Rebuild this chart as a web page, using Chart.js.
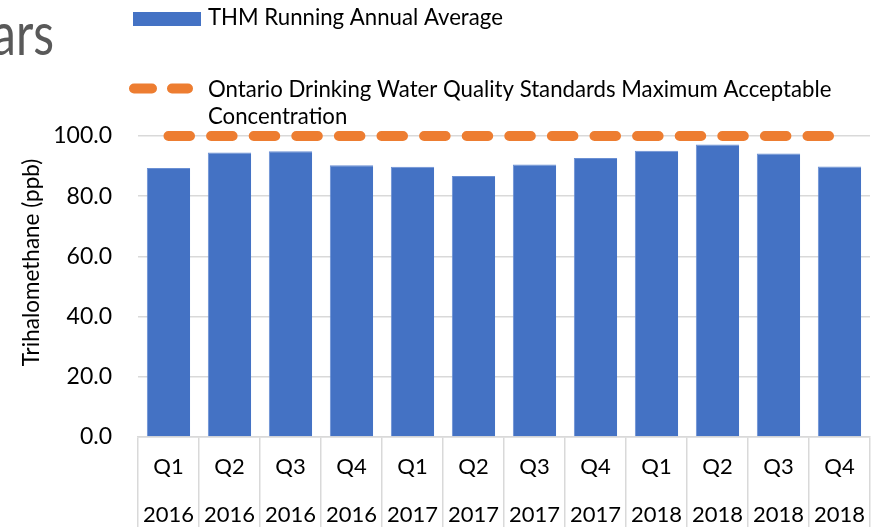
<!DOCTYPE html>
<html>
<head>
<meta charset="utf-8">
<script src="https://cdn.jsdelivr.net/npm/chart.js@4.4.1/dist/chart.umd.min.js"></script>
<style>
  html, body { margin: 0; padding: 0; background: #fff; overflow: hidden; }
  #wrap { position: relative; width: 881px; height: 527px; overflow: hidden; }
  canvas { display: block; }
</style>
</head>
<body>
<div id="wrap"><canvas id="c" width="881" height="545"></canvas></div>
<script>
// ---- data ----
const quarters = ['Q1', 'Q2', 'Q3', 'Q4', 'Q1', 'Q2', 'Q3', 'Q4', 'Q1', 'Q2', 'Q3', 'Q4'];
const years = ['2016', '2016', '2016', '2016', '2017', '2017', '2017', '2017', '2018', '2018', '2018', '2018'];
const thmRunningAnnualAverage = [89.4, 94.5, 94.9, 90.3, 89.8, 86.7, 90.5, 92.7, 95.1, 97.2, 94.2, 89.9];
const odwqsMAC = [100, 100, 100, 100, 100, 100, 100, 100, 100, 100, 100, 100];
const seriesNames = ['THM Running Annual Average', 'Ontario Drinking Water Quality Standards Maximum Acceptable Concentration'];
const legendLines = ['Ontario Drinking Water Quality Standards Maximum Acceptable', 'Concentration'];
const yAxisTitle = 'Trihalomethane (ppb)';
const titleFragment = 'ars';

const FONT = 'Lato, "Liberation Sans", sans-serif';
const BLUE = '#4472C4';
const ORANGE = '#ED7D31';
const GRID = '#d9d9d9';

const labels = quarters.map((q, i) => [q, years[i]]);

const overlay = {
  id: 'overlay',
  afterDraw(chart) {
    const ctx = chart.ctx;
    const ca = chart.chartArea;
    ctx.save();
    // slide title fragment (cut off at the left edge)
    ctx.save();
    ctx.fillStyle = '#595959';
    ctx.font = '60px ' + FONT;
    ctx.textAlign = 'right';
    ctx.textBaseline = 'alphabetic';
    ctx.translate(54, 55);
    ctx.scale(0.8, 1);
    ctx.fillText(titleFragment, 0, 0);
    ctx.restore();

    // legend item 1
    ctx.fillStyle = BLUE;
    ctx.fillRect(133, 12, 68, 14);
    ctx.fillStyle = '#000';
    ctx.font = '22.2px ' + FONT;
    ctx.textAlign = 'left';
    ctx.textBaseline = 'alphabetic';
    ctx.fillText(seriesNames[0], 208, 25);

    // legend item 2
    ctx.strokeStyle = ORANGE;
    ctx.lineWidth = 10;
    ctx.lineCap = 'round';
    ctx.setLineDash([18, 20]);
    ctx.beginPath();
    ctx.moveTo(134, 88.5);
    ctx.lineTo(188, 88.5);
    ctx.stroke();
    ctx.setLineDash([]);
    ctx.fillStyle = '#000';
    ctx.fillText(legendLines[0], 208, 96.5);
    ctx.fillText(legendLines[1], 208, 124);

    // y axis title
    ctx.translate(32, (ca.top + ca.bottom) / 2 - 24);
    ctx.rotate(-Math.PI / 2);
    ctx.font = '22.5px ' + FONT;
    ctx.textAlign = 'center';
    ctx.textBaseline = 'middle';
    ctx.fillText(yAxisTitle, 0, 0);
    ctx.restore();
  }
};

new Chart(document.getElementById('c'), {
  data: {
    labels: labels,
    datasets: [
      {
        type: 'line',
        label: seriesNames[1],
        data: odwqsMAC,
        borderColor: ORANGE,
        backgroundColor: ORANGE,
        borderWidth: 10,
        borderDash: [21.5, 21.1],
        borderCapStyle: 'round',
        pointRadius: 0,
        fill: false,
        clip: false,
        order: 0
      },
      {
        type: 'bar',
        label: seriesNames[0],
        data: thmRunningAnnualAverage,
        backgroundColor: BLUE,
        borderColor: '#6a8fd3',
        borderWidth: { top: 1, left: 1, right: 0, bottom: 0 },
        categoryPercentage: 1.0,
        barPercentage: 0.71,
        order: 1
      }
    ]
  },
  options: {
    responsive: false,
    animation: false,
    devicePixelRatio: 1,
    layout: { padding: { top: 136, right: 11, bottom: 0, left: 0 } },
    plugins: {
      legend: { display: false },
      tooltip: { enabled: false },
      title: { display: false }
    },
    scales: {
      x: {
        offset: true,
        grid: {
          offset: true,
          drawOnChartArea: false,
          drawTicks: true,
          tickLength: 108,
          color: GRID,
          lineWidth: 1.5
        },
        border: { display: true, color: GRID, width: 1.5 },
        ticks: {
          color: '#000',
          font: { family: FONT, size: 22, lineHeight: '48px' },
          padding: -102,
          maxRotation: 0,
          autoSkip: false
        },
        afterFit(scale) { scale.height = 108; }
      },
      y: {
        min: 0,
        max: 100,
        ticks: {
          stepSize: 20,
          color: '#000',
          font: { family: FONT, size: 23 },
          padding: 26,
          callback: v => Number(v).toFixed(1)
        },
        grid: { color: GRID, lineWidth: 1.5, drawTicks: false },
        border: { display: false },
        afterFit(scale) { scale.width = 138; }
      }
    }
  },
  plugins: [overlay]
});
</script>
</body>
</html>
